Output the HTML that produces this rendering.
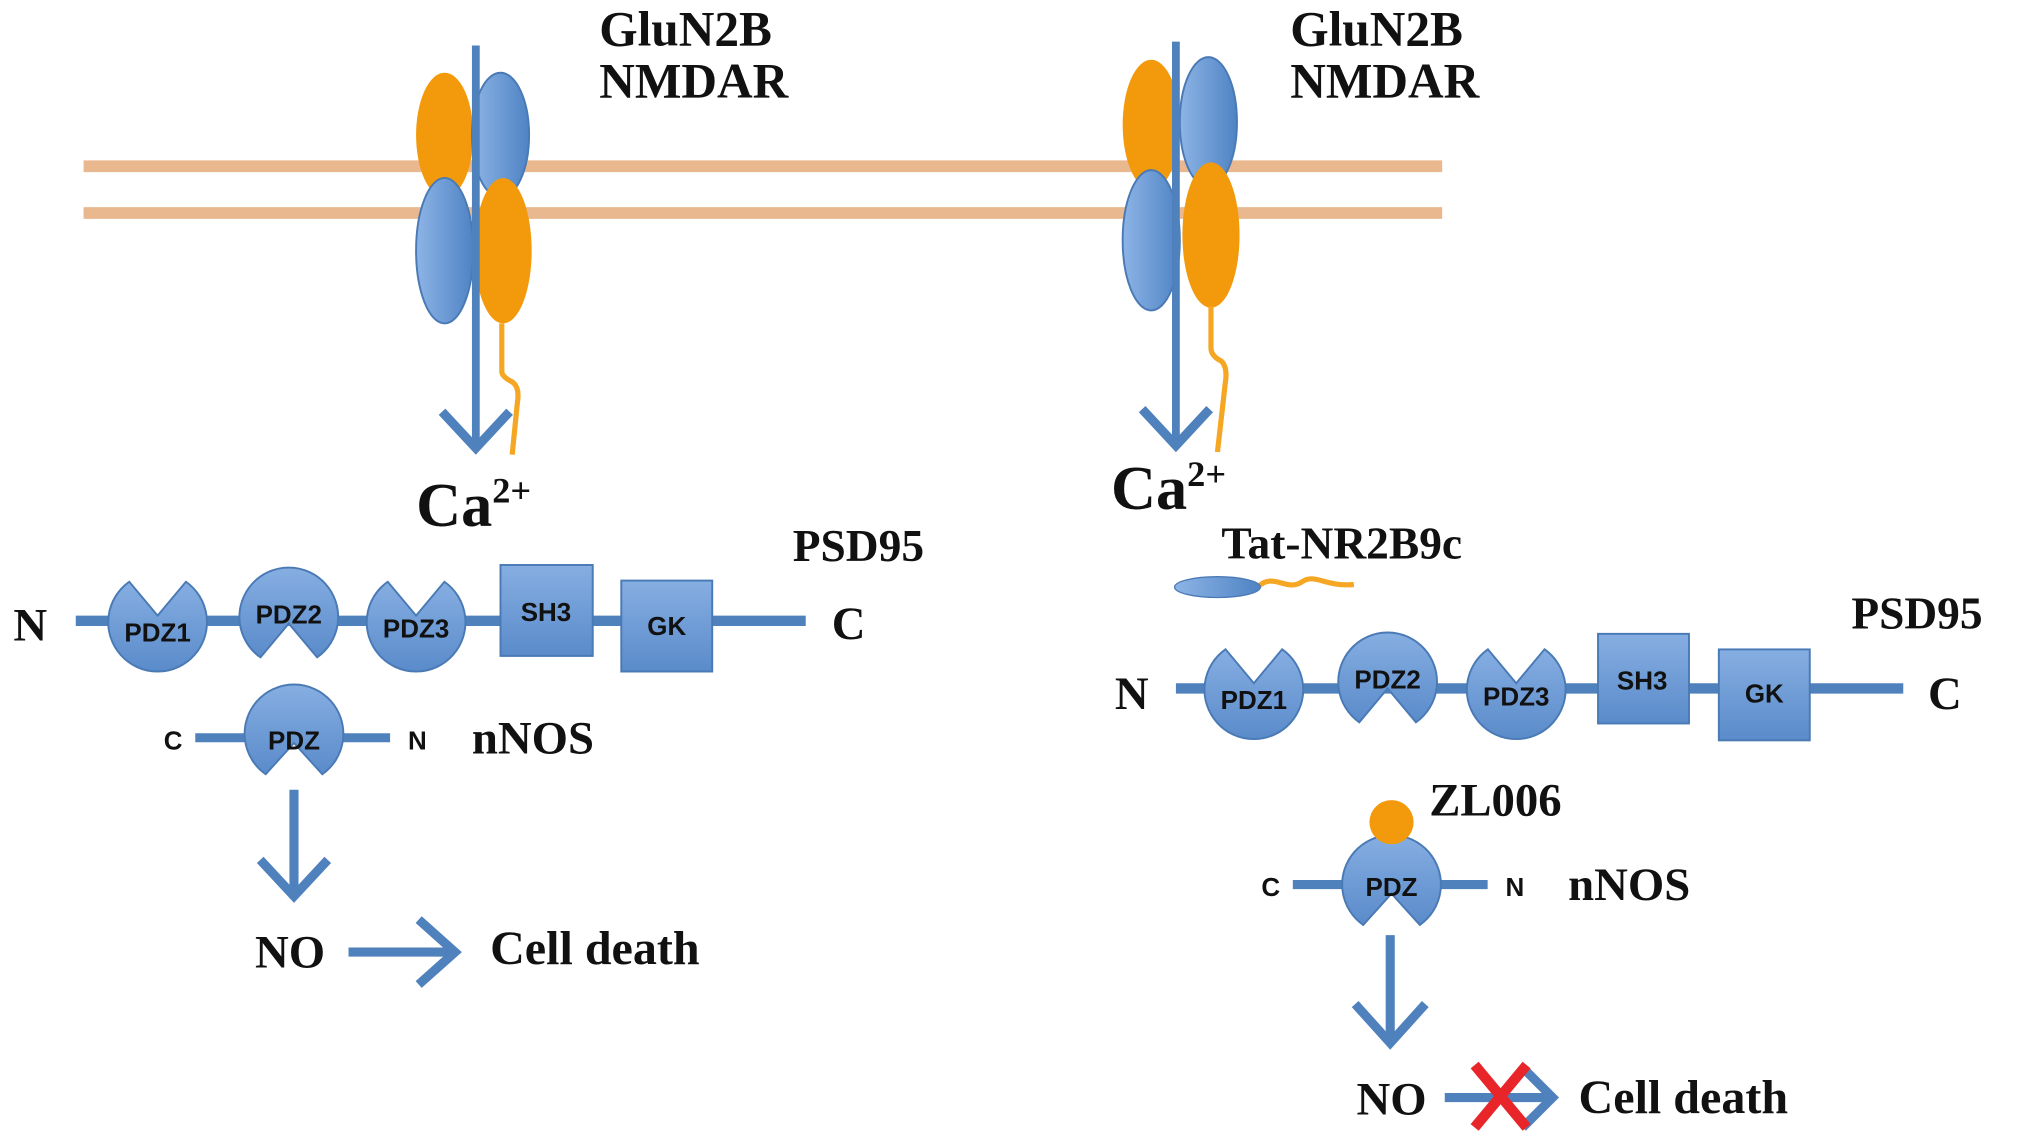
<!DOCTYPE html>
<html><head><meta charset="utf-8"><style>
html,body{margin:0;padding:0;background:#fff;}
svg{display:block;}
.lab{font-family:"Liberation Serif",serif;font-weight:bold;fill:#111;}
.in{font-family:"Liberation Sans",sans-serif;font-weight:bold;fill:#111;font-size:20px;text-anchor:middle;}
</style></head><body>
<svg width="2031" height="1143" viewBox="0 0 1563 880" xmlns="http://www.w3.org/2000/svg">
<defs>
<linearGradient id="bg" x1="0" x2="1" y1="0" y2="0">
<stop offset="0" stop-color="#8db4e6"/><stop offset="1" stop-color="#4f83c4"/></linearGradient>
<linearGradient id="bg2" x1="0" x2="0" y1="0" y2="1">
<stop offset="0" stop-color="#86aee2"/><stop offset="1" stop-color="#5a8bca"/></linearGradient>
</defs>
<line x1="64" y1="128" x2="1110" y2="128" stroke="#eab88f" stroke-width="9"/>
<line x1="64" y1="164" x2="1110" y2="164" stroke="#eab88f" stroke-width="9"/>

<g stroke="#4a7ab5" stroke-width="1.5">
<ellipse cx="342" cy="104" rx="22" ry="48" fill="#f39a0c" stroke="none"/>
<ellipse cx="385" cy="104" rx="22" ry="48" fill="url(#bg)"/>
<ellipse cx="342" cy="193" rx="22" ry="56" fill="url(#bg)"/>
<ellipse cx="387" cy="193" rx="22" ry="56" fill="#f39a0c" stroke="none"/>
</g>
<path d="M386 249 L386 286 Q386 290 394 294 Q400 298 398 310 L394 350" fill="none" stroke="#f5a623" stroke-width="4"/>
<line x1="366" y1="35" x2="366" y2="344" stroke="#4f81bd" stroke-width="6"/>
<polyline points="340,317 366,345 392,317" fill="none" stroke="#4f81bd" stroke-width="7"/>
<text class="lab" x="320" y="405" font-size="48">Ca<tspan font-size="28" dy="-18">2+</tspan></text>
<text class="lab" x="461" y="35" font-size="38">GluN2B</text>
<text class="lab" x="461" y="75" font-size="38">NMDAR</text>

<g stroke="#4a7ab5" stroke-width="1.5">
<ellipse cx="886" cy="96" rx="22" ry="50" fill="#f39a0c" stroke="none"/>
<ellipse cx="930" cy="94" rx="22" ry="50" fill="url(#bg)"/>
<ellipse cx="886" cy="185" rx="22" ry="54" fill="url(#bg)"/>
<ellipse cx="932" cy="181" rx="22" ry="56" fill="#f39a0c" stroke="none"/>
</g>
<path d="M932 236 L932 268 Q932 274 940 278 Q945 283 943 295 L937 348" fill="none" stroke="#f5a623" stroke-width="4"/>
<line x1="905" y1="32" x2="905" y2="342" stroke="#4f81bd" stroke-width="6"/>
<polyline points="879,315 905,343 931,315" fill="none" stroke="#4f81bd" stroke-width="7"/>
<text class="lab" x="855" y="392" font-size="48">Ca<tspan font-size="28" dy="-18">2+</tspan></text>
<text class="lab" x="993" y="35" font-size="38">GluN2B</text>
<text class="lab" x="993" y="75" font-size="38">NMDAR</text>

<text class="lab" x="610" y="432" font-size="35">PSD95</text>
<text class="lab" x="10" y="493" font-size="36">N</text>
<text class="lab" x="640" y="492" font-size="36">C</text>
<line x1="58" y1="478" x2="620" y2="478" stroke="#4f81bd" stroke-width="8"/>
<g fill="url(#bg2)" stroke="#4a7ab5" stroke-width="1.5">
<path d="M99.2,447.9 A38 38 0 1 0 142.8,447.9 L121,474 Z"/>
<path d="M200.2,506.1 A38 38 0 1 1 243.8,506.1 L222,480 Z"/>
<path d="M298.2,447.9 A38 38 0 1 0 341.8,447.9 L320,474 Z"/>
<rect x="385" y="435" width="71" height="70"/>
<rect x="478" y="447" width="70" height="70"/>
</g>
<text class="in" x="121" y="494">PDZ1</text>
<text class="in" x="222" y="480">PDZ2</text>
<text class="in" x="320" y="491">PDZ3</text>
<text class="in" x="420" y="478">SH3</text>
<text class="in" x="513" y="489">GK</text>

<line x1="150" y1="568" x2="300" y2="568" stroke="#4f81bd" stroke-width="7"/>
<path d="M204.2,596.1 A38 38 0 1 1 247.8,596.1 L226,572 Z" fill="url(#bg2)" stroke="#4a7ab5" stroke-width="1.5"/>
<text class="in" x="226" y="577">PDZ</text>
<text class="in" x="133" y="577">C</text>
<text class="in" x="321" y="577">N</text>
<text class="lab" x="363" y="580" font-size="36">nNOS</text>
<line x1="226" y1="608" x2="226" y2="688" stroke="#4f81bd" stroke-width="7"/>
<polyline points="200,662 226,690 252,662" fill="none" stroke="#4f81bd" stroke-width="7"/>
<text class="lab" x="196" y="745" font-size="36">NO</text>
<line x1="268" y1="733" x2="348" y2="733" stroke="#4f81bd" stroke-width="7"/>
<polyline points="322,708 350,733 322,758" fill="none" stroke="#4f81bd" stroke-width="7"/>
<text class="lab" x="377" y="742" font-size="37">Cell death</text>

<text class="lab" x="940" y="430" font-size="35">Tat-NR2B9c</text>
<path d="M968 452 C980 440 990 456 1002 448 C1012 441 1020 452 1042 450" fill="none" stroke="#f5a623" stroke-width="4"/>
<ellipse cx="937" cy="452" rx="33" ry="8" fill="url(#bg)" stroke="#4a7ab5" stroke-width="1"/>

<text class="lab" x="1425" y="484" font-size="35">PSD95</text>
<text class="lab" x="858" y="546" font-size="36">N</text>
<text class="lab" x="1484" y="546" font-size="36">C</text>
<line x1="905" y1="530" x2="1465" y2="530" stroke="#4f81bd" stroke-width="8"/>
<g fill="url(#bg2)" stroke="#4a7ab5" stroke-width="1.5">
<path d="M943.2,499.9 A38 38 0 1 0 986.8,499.9 L965,526 Z"/>
<path d="M1046.2,556.1 A38 38 0 1 1 1089.8,556.1 L1068,530 Z"/>
<path d="M1145.2,499.9 A38 38 0 1 0 1188.8,499.9 L1167,526 Z"/>
<rect x="1230" y="488" width="70" height="69"/>
<rect x="1323" y="500" width="70" height="70"/>
</g>
<text class="in" x="965" y="546">PDZ1</text>
<text class="in" x="1068" y="530">PDZ2</text>
<text class="in" x="1167" y="543">PDZ3</text>
<text class="in" x="1264" y="531">SH3</text>
<text class="in" x="1358" y="541">GK</text>

<line x1="995" y1="681" x2="1145" y2="681" stroke="#4f81bd" stroke-width="7"/>
<path d="M1049.2,712.1 A38 38 0 1 1 1092.8,712.1 L1071,688 Z" fill="url(#bg2)" stroke="#4a7ab5" stroke-width="1.5"/>
<circle cx="1071" cy="633" r="17" fill="#f39a0c"/>
<text class="lab" x="1100" y="628" font-size="36">ZL006</text>
<text class="in" x="1071" y="690">PDZ</text>
<text class="in" x="978" y="690">C</text>
<text class="in" x="1166" y="690">N</text>
<text class="lab" x="1207" y="693" font-size="36">nNOS</text>
<line x1="1070" y1="720" x2="1070" y2="802" stroke="#4f81bd" stroke-width="7"/>
<polyline points="1043,773 1070,803 1097,773" fill="none" stroke="#4f81bd" stroke-width="7"/>
<text class="lab" x="1044" y="858" font-size="36">NO</text>
<line x1="1112" y1="845" x2="1192" y2="845" stroke="#4f81bd" stroke-width="7"/>
<polyline points="1172,822 1195,845 1172,868" fill="none" stroke="#4f81bd" stroke-width="7"/>
<line x1="1135" y1="820" x2="1175" y2="868" stroke="#e8262a" stroke-width="8"/>
<line x1="1175" y1="820" x2="1135" y2="868" stroke="#e8262a" stroke-width="8"/>
<text class="lab" x="1215" y="857" font-size="37">Cell death</text>
</svg>
</body></html>
